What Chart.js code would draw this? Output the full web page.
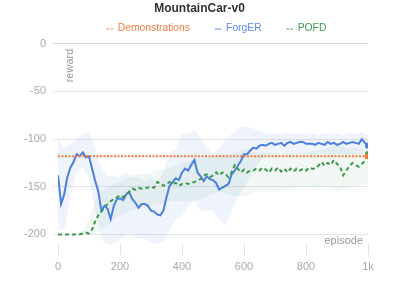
<!DOCTYPE html>
<html>
<head>
<meta charset="utf-8">
<script src="https://cdn.jsdelivr.net/npm/chart.js@4/dist/chart.umd.min.js"></script>
<style>
  html, body { margin: 0; padding: 0; background: #fff; }
  #wrap { width: 399px; height: 282px; }
</style>
</head>
<body>
<div id="wrap"><canvas id="rlChart"></canvas></div>
<script>
const episodes = [0,10,20,30,40,50,60,70,80,90,100,110,120,130,140,150,160,170,180,190,200,
  210,220,230,240,250,260,270,280,290,300,310,320,330,340,350,360,370,380,390,400,
  410,420,430,440,450,460,470,480,490,500,510,520,530,540,550,560,570,580,590,600,
  610,620,630,640,650,660,670,680,690,700,710,720,730,740,750,760,770,780,790,800,
  810,820,830,840,850,860,870,880,890,900,910,920,930,940,950,960,970,980,990,1000];

const forgER = [-138,-168,-158,-140,-130,-124,-116,-118,-114,-119,-118,-131,-144,-155,-175,-170,-173,-184,-170,-163,-162,
  -164,-158,-156,-163,-167,-172,-168,-168,-170,-175,-176,-179,-180,-175,-161,-149,-145,-141,-143,-135,
  -131,-133,-127,-122,-135,-139,-144,-139,-142,-143,-146,-153,-151,-149,-147,-137,-133,-128,-123,-116,
  -116,-112,-109,-110,-107,-106,-107,-105,-104,-106,-105,-104,-107,-104,-103,-105,-104,-103,-103,-105,
  -105,-105,-106,-104,-105,-106,-103,-105,-104,-106,-105,-103,-105,-104,-103,-104,-105,-100,-104,-107];

const pofd = [-200,-200,-200,-200,-200,-200,-200,-200,-199,-198,-199,-195,-186,-180,-176,-172,-168,-165,-163,-161,-159,
  -161,-158,-155,-152,-153,-151,-152,-151,-151,-150,-151,-145,-146,-149,-147,-145,-147,-146,-149,-147,
  -146,-147,-146,-145,-143,-142,-138,-137,-140,-138,-135,-138,-135,-137,-140,-135,-127,-131,-135,-132,
  -135,-133,-133,-131,-133,-130,-132,-135,-131,-133,-130,-134,-131,-135,-131,-134,-131,-133,-131,-133,
  -130,-131,-131,-128,-124,-128,-125,-127,-122,-126,-129,-138,-133,-128,-125,-127,-129,-126,-123,-116];

const demoEpisodes = [0, 1000];
const demonstrations = [-118, -118];

const bandEpisodes = [0,20,40,60,80,100,120,140,160,180,200,220,240,260,280,300,320,340,360,380,400,
  420,440,460,480,500,520,540,560,580,600,620,640,660,680,700,720,740,760,780,800,
  820,840,860,880,900,920,940,960,980,1000];

const forgERUpper = [-100,-110,-105,-100,-95,-92,-110,-130,-140,-138,-140,-135,-140,-140,-145,-140,-145,-135,-115,-110,-95,
  -95,-90,-100,-110,-115,-110,-100,-95,-90,-86,-88,-90,-93,-95,-94,-95,-93,-95,-94,-95,
  -94,-96,-93,-95,-94,-96,-93,-95,-92,-96];
const forgERLower = [-195,-195,-160,-135,-130,-140,-175,-205,-210,-210,-205,-200,-200,-205,-205,-208,-210,-208,-195,-185,-180,
  -170,-165,-175,-175,-175,-185,-190,-175,-160,-150,-140,-128,-120,-117,-116,-115,-117,-116,-115,-116,
  -117,-115,-116,-118,-116,-115,-117,-116,-115,-114];

const pofdUpper = [-200,-200,-199,-199,-195,-185,-165,-155,-150,-148,-145,-142,-138,-137,-136,-135,-133,-132,-130,-128,-125,
  -123,-120,-121,-120,-118,-115,-116,-115,-113,-110,-112,-115,-114,-115,-115,-116,-115,-115,-114,-115,
  -113,-112,-110,-108,-105,-108,-110,-109,-111,-112];
const pofdLower = [-200,-200,-200,-200,-200,-200,-200,-195,-190,-185,-180,-178,-175,-173,-172,-170,-168,-167,-165,-165,-165,
  -165,-165,-163,-160,-158,-155,-157,-160,-160,-160,-158,-155,-155,-155,-155,-154,-153,-152,-150,-150,
  -151,-150,-150,-151,-155,-153,-150,-149,-148,-148];

const yTicks = [-200, -150, -100, -50, 0];
const xTicks = [0, 200, 400, 600, 800, 1000];

const seriesNames = ['Demonstrations', 'ForgER', 'POFD'];
const seriesColors = ['#f47c3c', '#4a7fe0', '#3c9a4e'];
const legendColors = ['#f07d45', '#5b8ded', '#3d9a50'];
const legendDashes = [[2.5, 1.5], [], [2.5, 1.5]];

const FONT = '"Liberation Sans", Arial, sans-serif';

function toPoints(xs, ys) {
  return xs.map((x, i) => ({ x: x, y: ys[i] }));
}

// small dash marker for the legend, blank space on the left keeps items apart
function legendMarker(color, dash) {
  const c = document.createElement('canvas');
  c.width = 23;
  c.height = 4;
  const g = c.getContext('2d');
  g.strokeStyle = color;
  g.lineWidth = 1;
  g.setLineDash(dash);
  g.beginPath();
  g.moveTo(17, 2.5);
  g.lineTo(23, 2.5);
  g.stroke();
  return c;
}

const lastDot = (ctx) => ctx.dataIndex === ctx.dataset.data.length - 1 ? 3 : 0;

// legend sits a little left of the plot centre
const nudgeLegend = {
  id: 'nudgeLegend',
  afterLayout(chart) {
    chart.legend.left -= 5;
    chart.legend.right -= 5;
  }
};

const axisTitles = {
  id: 'axisTitles',
  afterDraw(chart) {
    const { ctx, chartArea } = chart;
    ctx.save();
    ctx.fillStyle = '#999';
    ctx.font = '11px ' + FONT;
    ctx.textAlign = 'right';
    ctx.textBaseline = 'bottom';
    ctx.fillText('episode', chartArea.right - 5, chartArea.bottom + 2);
    ctx.translate(chartArea.left + 6, chartArea.top + 5);
    ctx.rotate(-Math.PI / 2);
    ctx.textAlign = 'right';
    ctx.textBaseline = 'top';
    ctx.fillText('reward', 0, 0);
    ctx.restore();
  }
};

const canvas = document.getElementById('rlChart');
new Chart(canvas, {
  type: 'line',
  data: {
    datasets: [
      {
        label: seriesNames[0],
        data: toPoints(demoEpisodes, demonstrations),
        borderColor: seriesColors[0],
        backgroundColor: seriesColors[0],
        borderWidth: 2,
        borderDash: [2, 1.5],
        pointRadius: lastDot,
        pointBorderWidth: 0,
        fill: false
      },
      {
        label: seriesNames[2],
        data: toPoints(episodes, pofd),
        borderColor: seriesColors[2],
        backgroundColor: seriesColors[2],
        borderWidth: 2,
        borderDash: [4, 3],
        pointRadius: lastDot,
        pointBorderWidth: 0,
        fill: false
      },
      {
        label: seriesNames[1],
        data: toPoints(episodes, forgER),
        borderColor: seriesColors[1],
        backgroundColor: seriesColors[1],
        borderWidth: 2,
        pointRadius: lastDot,
        pointBorderWidth: 0,
        fill: false
      },
      {
        label: 'ForgER band',
        data: toPoints(bandEpisodes, forgERUpper),
        borderWidth: 0,
        pointRadius: 0,
        backgroundColor: 'rgba(74,127,224,0.09)',
        fill: '+1'
      },
      {
        label: 'ForgER low',
        data: toPoints(bandEpisodes, forgERLower),
        borderWidth: 0,
        pointRadius: 0,
        fill: false
      },
      {
        label: 'POFD band',
        data: toPoints(bandEpisodes, pofdUpper),
        borderWidth: 0,
        pointRadius: 0,
        backgroundColor: 'rgba(60,154,78,0.07)',
        fill: '+1'
      },
      {
        label: 'POFD low',
        data: toPoints(bandEpisodes, pofdLower),
        borderWidth: 0,
        pointRadius: 0,
        fill: false
      }
    ]
  },
  options: {
    responsive: true,
    maintainAspectRatio: false,
    animation: false,
    layout: { padding: 0 },
    plugins: {
      title: {
        display: true,
        text: 'MountainCar-v0',
        color: '#333',
        font: { family: FONT, size: 12, weight: 'bold' },
        padding: { top: 1, bottom: 0 }
      },
      legend: {
        display: true,
        fullSize: false,
        labels: {
          font: { family: FONT, size: 10.3 },
          usePointStyle: true,
          pointStyleWidth: 23,
          boxHeight: 4,
          padding: 8,
          generateLabels(chart) {
            return [0, 2, 1].map((i) => {
              const ds = chart.data.datasets[i];
              const n = seriesNames.indexOf(ds.label);
              return {
                text: ds.label,
                fillStyle: legendColors[n],
                strokeStyle: legendColors[n],
                fontColor: legendColors[n],
                pointStyle: legendMarker(legendColors[n], legendDashes[n]),
                lineWidth: 0,
                hidden: false,
                datasetIndex: i
              };
            });
          }
        }
      },
      tooltip: { enabled: false }
    },
    scales: {
      x: {
        type: 'linear',
        min: 0,
        max: 1000,
        afterBuildTicks(axis) { axis.ticks = xTicks.map((v) => ({ value: v })); },
        afterFit(axis) { axis.height = 38; },
        grid: { drawOnChartArea: false, tickLength: 11, color: '#e2e2e2' },
        border: { display: false },
        ticks: {
          color: '#aaa',
          padding: 5,
          maxRotation: 0,
          font: { family: FONT, size: 11 },
          callback: (v) => v === 1000 ? '1k' : v
        }
      },
      y: {
        min: -210,
        max: 0,
        afterBuildTicks(axis) { axis.ticks = yTicks.map((v) => ({ value: v })); },
        afterFit(axis) { axis.width = 58; },
        grid: { tickLength: 5, color: (c) => c.tick && c.tick.value === 0 ? '#d8d8d8' : '#e6e6e6' },
        border: { display: false },
        ticks: {
          color: '#aaa',
          padding: 7,
          font: { family: FONT, size: 11 }
        }
      },
      spare: {
        position: 'right',
        grid: { display: false },
        border: { display: false },
        ticks: { display: false },
        afterFit(axis) { axis.width = 31; }
      }
    }
  },
  plugins: [nudgeLegend, axisTitles]
});
</script>
</body>
</html>
